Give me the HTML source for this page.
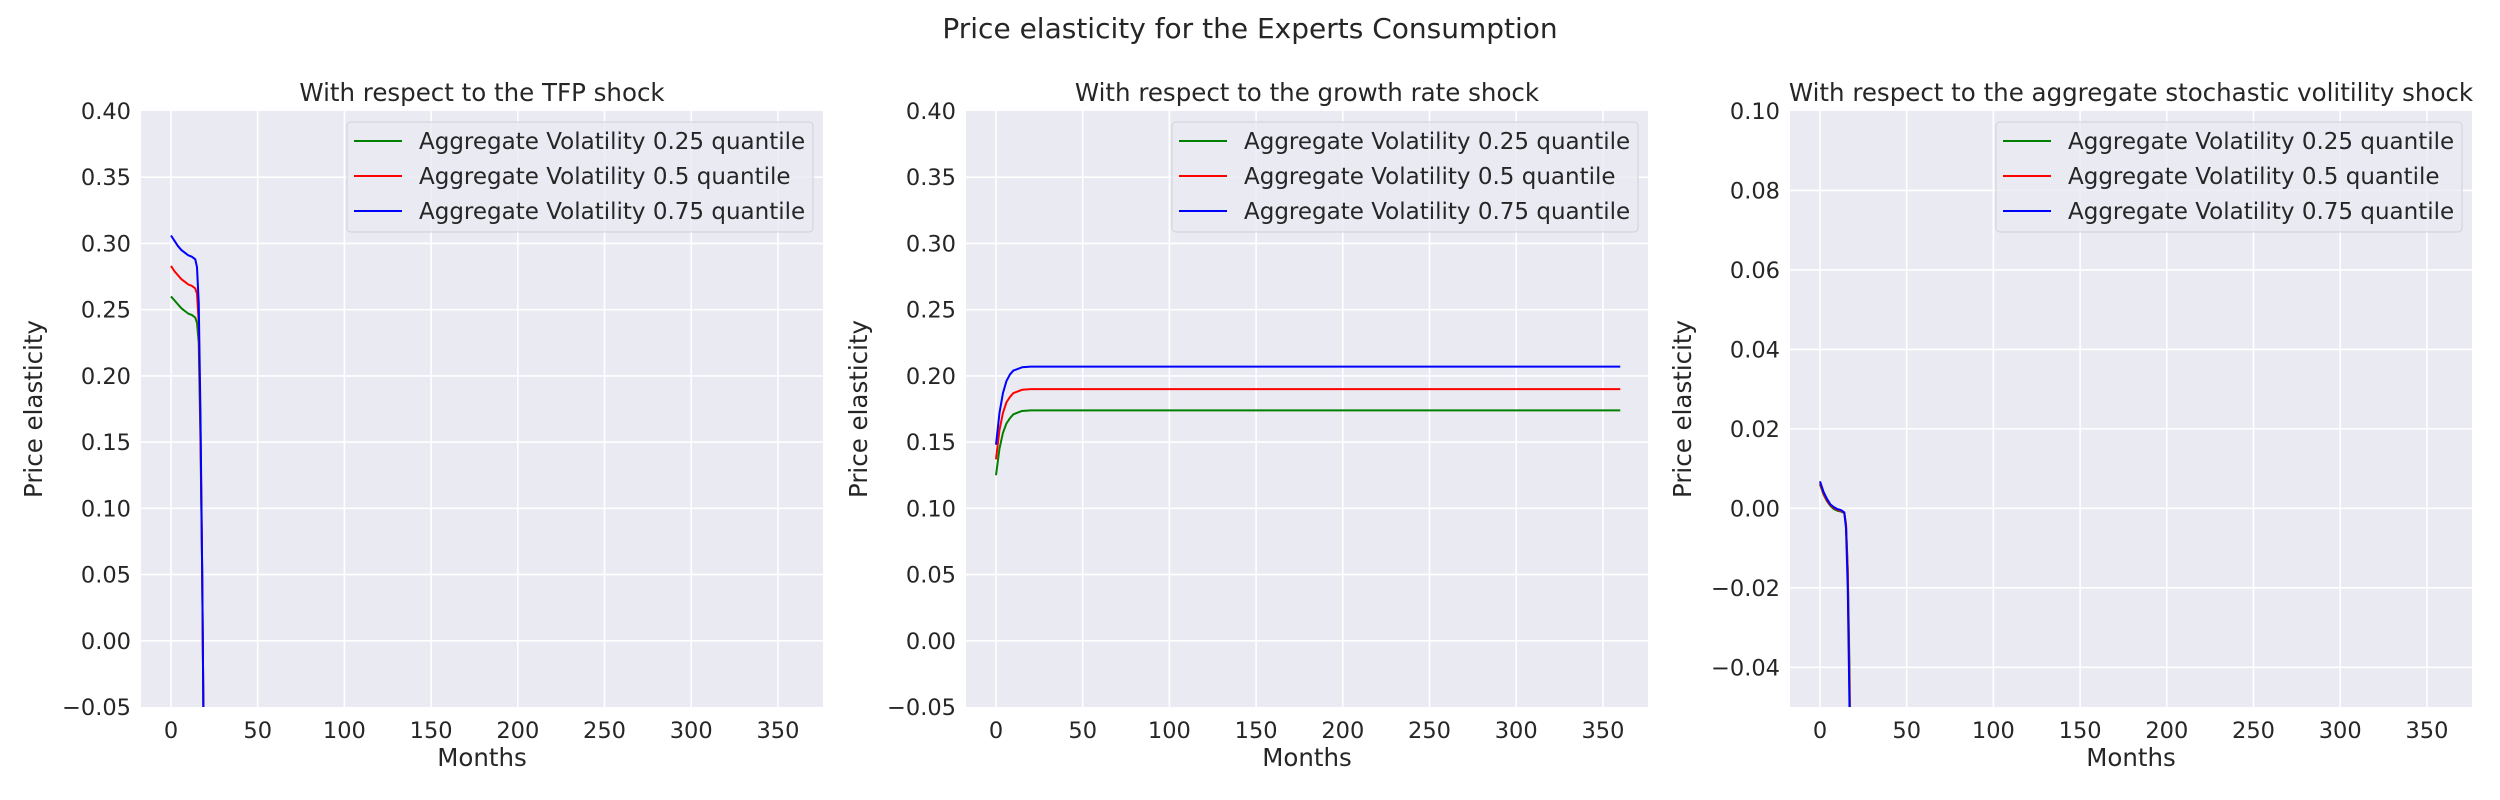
<!DOCTYPE html>
<html><head><meta charset="utf-8">
<style>
html,body{margin:0;padding:0;background:#fff;overflow:hidden;width:2500px;height:800px;}
svg{display:block;font-family:"DejaVu Sans","Liberation Sans",sans-serif;}
</style></head>
<body>
<svg id="fig" width="2500" height="800" viewBox="0 0 2500 800">
<text x="1250" y="38" text-anchor="middle" font-size="28" fill="#262626">Price elasticity for the Experts Consumption</text>
</svg>
<script>
// ---- data ----
const legendLabels = ["Aggregate Volatility 0.25 quantile","Aggregate Volatility 0.5 quantile","Aggregate Volatility 0.75 quantile"];
const seriesColors = ["#008000","#ff0000","#0000ff"];
const xTicks = [0,50,100,150,200,250,300,350];
const panelTitles = ["With respect to the TFP shock","With respect to the growth rate shock","With respect to the aggregate stochastic volitility shock"];

const tfpMonths = [0,2,4,6,8,10,12,14,15,16,17,18,19,20];
const tfpLow  = [0.260,0.257,0.254,0.251,0.249,0.247,0.246,0.244,0.240,0.225,0.15,0.05,-0.10,-0.30];
const tfpMid  = [0.283,0.279,0.276,0.273,0.271,0.269,0.268,0.266,0.262,0.240,0.16,0.05,-0.10,-0.30];
const tfpHigh = [0.306,0.302,0.298,0.295,0.293,0.291,0.290,0.288,0.282,0.255,0.17,0.05,-0.10,-0.30];
const tfpYTicks = [-0.05,0.00,0.05,0.10,0.15,0.20,0.25,0.30,0.35,0.40];

const grMonths = [0,2,4,6,8,10,12,15,20,30,60,120,240,360];
const grLow  = [0.125,0.145,0.157,0.164,0.168,0.171,0.172,0.1735,0.174,0.174,0.174,0.174,0.174,0.174];
const grMid  = [0.137,0.159,0.172,0.180,0.184,0.187,0.188,0.1895,0.190,0.190,0.190,0.190,0.190,0.190];
const grHigh = [0.148,0.172,0.187,0.196,0.201,0.204,0.205,0.2065,0.207,0.207,0.207,0.207,0.207,0.207];
const grYTicks = [-0.05,0.00,0.05,0.10,0.15,0.20,0.25,0.30,0.35,0.40];

const volMonths = [0,2,4,6,8,10,12,14,15,16,17,18,19];
const volLow  = [0.006,0.0035,0.0018,0.0006,-0.0002,-0.0006,-0.0008,-0.0012,-0.004,-0.015,-0.04,-0.08,-0.12];
const volMid  = [0.0063,0.0038,0.002,0.0008,0.0001,-0.0004,-0.0006,-0.0011,-0.004,-0.016,-0.045,-0.08,-0.12];
const volHigh = [0.0068,0.0042,0.0024,0.001,0.0003,-0.0002,-0.0004,-0.001,-0.005,-0.02,-0.05,-0.09,-0.12];
const volYTicks = [-0.04,-0.02,0.00,0.02,0.04,0.06,0.08,0.10];

const NS="http://www.w3.org/2000/svg";
const svg=document.getElementById('fig');
function mk(tag,attrs,parent){const e=document.createElementNS(NS,tag);for(const k in attrs)e.setAttribute(k,attrs[k]);(parent||svg).appendChild(e);return e;}

const panels=[
 {left:141,months:tfpMonths,series:[tfpLow,tfpMid,tfpHigh],yTicks:tfpYTicks,ymin:-0.05,ymax:0.40,dec:2,name:'tfp'},
 {left:966,months:grMonths,series:[grLow,grMid,grHigh],yTicks:grYTicks,ymin:-0.05,ymax:0.40,dec:2,name:'growth'},
 {left:1790,months:volMonths,series:[volLow,volMid,volHigh],yTicks:volYTicks,ymin:-0.05,ymax:0.10,dec:2,name:'volatility'}
];
const TOP=111,BOT=707,W=682,XMIN=-17.3,XMAX=376;

panels.forEach((p,pi)=>{
 const g=mk('g',{});
 
 
 const xs=v=>p.left+(v-XMIN)/(XMAX-XMIN)*W;
 const ys=v=>BOT-(v-p.ymin)/(p.ymax-p.ymin)*(BOT-TOP);
 const bg=mk('rect',{x:p.left,y:TOP,width:W,height:BOT-TOP,fill:'#eaeaf2'},g);
 
 
 xTicks.forEach(t=>{
  const l=mk('line',{x1:xs(t),x2:xs(t),y1:TOP,y2:BOT,stroke:'#fff','stroke-width':1.6},g);
  
  
  const tx=mk('text',{x:xs(t),y:BOT+31,'text-anchor':'middle','font-size':22.5,fill:'#262626'},g);
  tx.textContent=t;
  
  
 });
 p.yTicks.forEach(t=>{
  const y=ys(t);
  if(y>TOP+1&&y<BOT-1){
   const l=mk('line',{x1:p.left,x2:p.left+W,y1:y,y2:y,stroke:'#fff','stroke-width':1.6},g);
   
   
  }
  const tx=mk('text',{x:p.left-10,y:y+8,'text-anchor':'end','font-size':22.5,fill:'#262626'},g);
  tx.textContent=(t<0?'\u2212':'')+Math.abs(t).toFixed(p.dec);
  
  
 });
 const cp=mk('clipPath',{id:'clip'+pi},g);
 mk('rect',{x:p.left,y:TOP,width:W,height:BOT-TOP},cp);
 p.series.forEach((s,si)=>{
  const d=s.map((v,i)=>(i?'L':'M')+xs(p.months[i]).toFixed(2)+','+ys(v).toFixed(2)).join(' ');
  const path=mk('path',{d:d,fill:'none',stroke:seriesColors[si],'stroke-width':2,'clip-path':'url(#clip'+pi+')','stroke-linejoin':'round'},g);
  
  
 });
 const tt=mk('text',{x:p.left+W/2,y:TOP-10,'text-anchor':'middle','font-size':24.5,fill:'#262626'},g);
 tt.textContent=panelTitles[pi];
 
 
 const xl=mk('text',{x:p.left+W/2,y:766,'text-anchor':'middle','font-size':24.5,fill:'#262626'},g);
 xl.textContent='Months';
 
 
 const yl=mk('text',{x:0,y:0,'text-anchor':'middle','font-size':24.5,fill:'#262626',transform:'translate('+(p.left-99)+','+((TOP+BOT)/2)+') rotate(-90)'},g);
 yl.textContent='Price elasticity';
 
 
 // legend
 const lg=mk('g',{},g);
 
 
 const lx=p.left+206;
 mk('rect',{x:lx,y:122,width:466,height:110,rx:4,fill:'#eaeaf2','fill-opacity':0.8,stroke:'#d0d0d8','stroke-width':1},lg);
 legendLabels.forEach((lab,li)=>{
  const yy=141+li*35;
  const ln=mk('line',{x1:lx+7,x2:lx+55,y1:yy,y2:yy,stroke:seriesColors[li],'stroke-width':2},lg);
  
  
  const t=mk('text',{x:lx+72,y:yy+8,'font-size':23,fill:'#262626'},lg);
  t.textContent=lab;
  
  
 });
});
</script>
</body></html>
